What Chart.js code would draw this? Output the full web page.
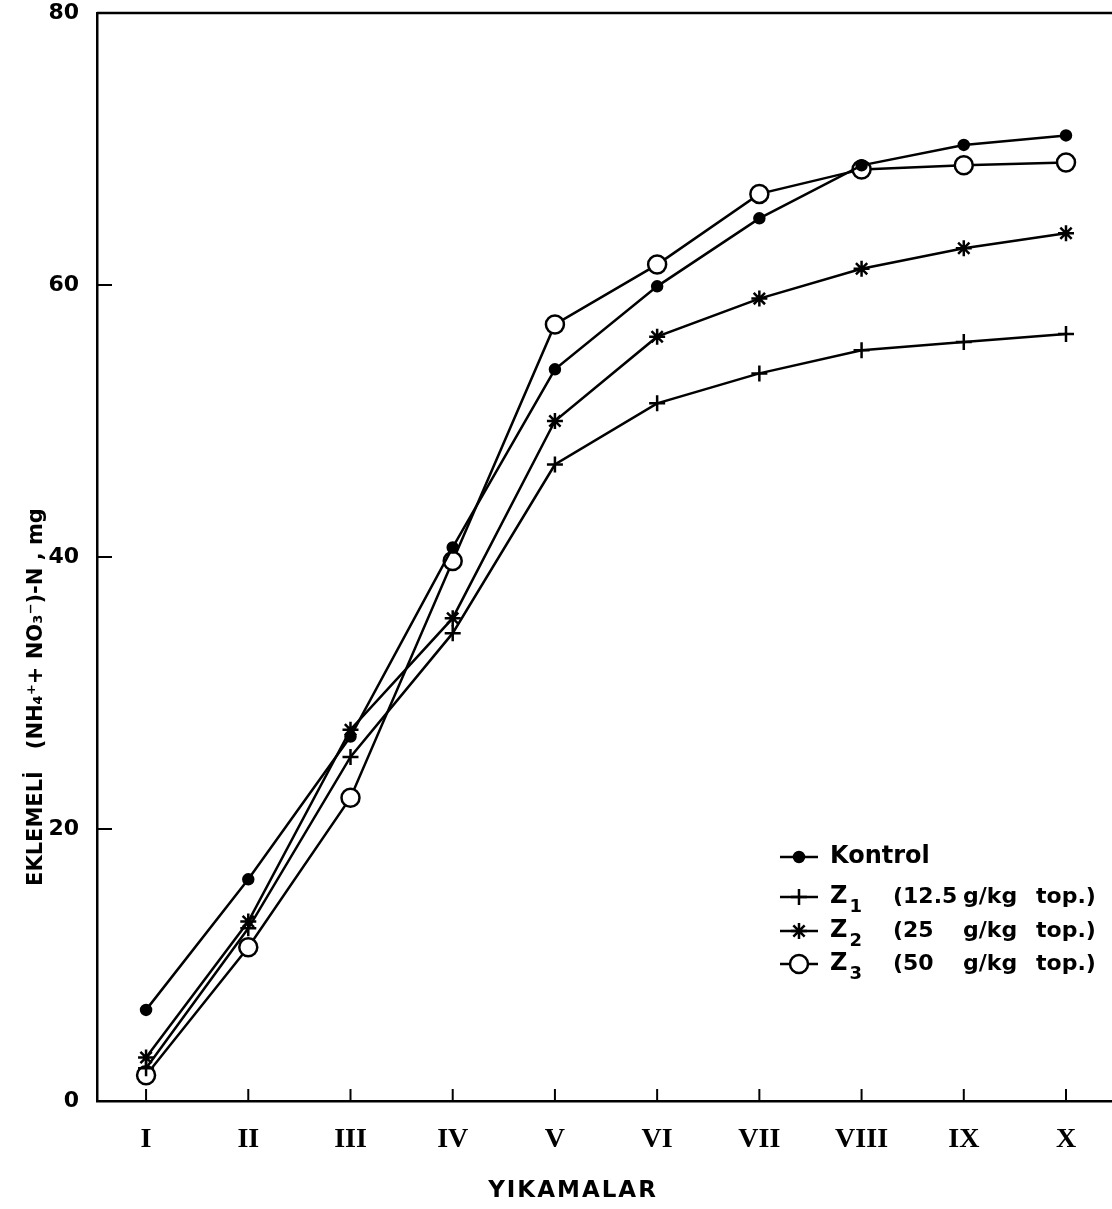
<!DOCTYPE html>
<html>
<head>
<meta charset="utf-8">
<script src="https://cdn.jsdelivr.net/npm/chart.js@4.4.1/dist/chart.umd.min.js"></script>
<style>
    html, body { margin: 0; padding: 0; background: #fff; }
    #wrap { width: 1112px; height: 1209px; }
</style>
</head>
<body>
<div id="wrap"><canvas id="washChart" width="1112" height="1209"></canvas></div>
<script>
// wash number (x axis) and y ticks
const washes = ['I', 'II', 'III', 'IV', 'V', 'VI', 'VII', 'VIII', 'IX', 'X'];
const yTicks = [0, 20, 40, 60, 80];

// cumulative (NH4+ + NO3-)-N, mg
const kontrol = [6.7, 16.3, 26.8, 40.7, 53.8, 59.9, 64.9, 68.8, 70.3, 71.0];
const z1 = [2.4, 12.7, 25.3, 34.4, 46.8, 51.3, 53.5, 55.2, 55.8, 56.4];
const z2 = [3.2, 13.2, 27.3, 35.5, 50.0, 56.2, 59.0, 61.2, 62.7, 63.8];
const z3 = [1.9, 11.3, 22.3, 39.7, 57.1, 61.5, 66.7, 68.5, 68.8, 69.0];

// legend pieces
const seriesNames = ['Kontrol', 'Z', 'Z', 'Z'];
const seriesSubs = ['', '1', '2', '3'];
const seriesDoses = ['', '12.5', '25', '50'];

const FONT = '"DejaVu Sans", sans-serif';

function toPoints(arr) {
    return arr.map((v, i) => ({ x: i + 1, y: v }));
}

const pointStyles = ['circle', 'cross', 'star', 'circle'];
const radii = [5, 8, 8, 9];
const fills = ['#000', '#000', '#000', '#fff'];

const datasets = [kontrol, z1, z2, z3].map((arr, i) => ({
    label: seriesNames[i] + seriesSubs[i] + (seriesDoses[i] ? ' (' + seriesDoses[i] + ' g/kg top.)' : ''),
    data: toPoints(arr),
    borderColor: '#000',
    borderWidth: 2.5,
    pointStyle: pointStyles[i],
    pointRadius: radii[i],
    pointBackgroundColor: fills[i],
    pointBorderColor: '#000',
    pointBorderWidth: 2.5,
    tension: 0,
    fill: false,
    clip: false,
    order: i == 3 ? 1 : 0
}));

const extras = {
    id: 'extras',
    afterDraw(chart) {
        const ctx = chart.ctx;
        const area = chart.chartArea;
        const xs = chart.scales.x;
        const ys = chart.scales.y;
        ctx.save();
        ctx.strokeStyle = '#000';
        ctx.lineWidth = 2.5;
        // top frame line, and both horizontal lines run to the page edge
        ctx.beginPath();
        ctx.moveTo(area.left, area.top);
        ctx.lineTo(chart.width, area.top);
        ctx.moveTo(area.right, area.bottom);
        ctx.lineTo(chart.width, area.bottom);
        ctx.stroke();
        // inward ticks
        ctx.lineWidth = 2;
        washes.forEach((w, i) => {
            const px = xs.getPixelForValue(i + 1);
            ctx.beginPath();
            ctx.moveTo(px, area.bottom);
            ctx.lineTo(px, area.bottom - 12);
            ctx.stroke();
        });
        yTicks.slice(1, -1).forEach(v => {
            const py = ys.getPixelForValue(v);
            ctx.beginPath();
            ctx.moveTo(area.left, py);
            ctx.lineTo(area.left + 15, py);
            ctx.stroke();
        });

        // axis titles
        ctx.fillStyle = '#000';
        ctx.font = 'bold 21px ' + FONT;
        ctx.textAlign = 'center';
        ctx.textBaseline = 'middle';
        ctx.save();
        ctx.translate(37, 697);
        ctx.rotate(-Math.PI / 2);
        ctx.fillText('EKLEMELİ   (NH\u2084\u207A+ NO\u2083\u207B)-N , mg', 0, 0);
        ctx.restore();
        ctx.font = 'bold 23px ' + FONT;
        ctx.letterSpacing = '2px';
        ctx.fillText('YIKAMALAR', 573, 1191);
        ctx.letterSpacing = '0px';

        // legend
        const rows = [857, 897, 931, 964];
        chart.data.datasets.forEach((ds, i) => {
            const y = rows[i];
            ctx.strokeStyle = '#000';
            ctx.lineWidth = 2.5;
            ctx.beginPath();
            ctx.moveTo(780, y);
            ctx.lineTo(818, y);
            ctx.stroke();
            ctx.fillStyle = ds.pointBackgroundColor;
            Chart.helpers.drawPoint(ctx, {
                pointStyle: ds.pointStyle,
                radius: ds.pointRadius,
                borderWidth: ds.pointBorderWidth,
                rotation: 0
            }, 799, y);
            ctx.fillStyle = '#000';
            ctx.textAlign = 'left';
            ctx.textBaseline = 'middle';
            ctx.font = 'bold 24px ' + FONT;
            ctx.fillText(seriesNames[i], 830, y);
            if (seriesSubs[i]) {
                const w = ctx.measureText(seriesNames[i]).width;
                ctx.font = 'bold 18px ' + FONT;
                ctx.fillText(seriesSubs[i], 830 + w + 2, y + 10);
                ctx.font = 'bold 22px ' + FONT;
                ctx.fillText('(' + seriesDoses[i], 893, y);
                ctx.fillText('g/kg', 963, y);
                ctx.fillText('top.)', 1036, y);
            }
        });
        ctx.restore();
    }
};

const ctx = document.getElementById('washChart').getContext('2d');
new Chart(ctx, {
    type: 'line',
    data: { datasets: datasets },
    options: {
        responsive: false,
        animation: false,
        layout: { autoPadding: false, padding: { top: 13, right: 0, left: 0, bottom: 0 } },
        plugins: {
            legend: { display: false },
            tooltip: { enabled: false }
        },
        scales: {
            x: {
                type: 'linear',
                min: 0.52,
                max: 10.45,
                afterBuildTicks: s => { s.ticks = washes.map((w, i) => ({ value: i + 1 })); },
                afterFit: s => { s.height = 108; s.paddingLeft = 0; s.paddingRight = 0; },
                grid: { display: false },
                border: { display: true, color: '#000', width: 2.5 },
                ticks: {
                    padding: 14,
                    color: '#000',
                    font: { family: '"Liberation Serif", serif', size: 28, weight: 'bold' },
                    callback: v => washes[v - 1] || ''
                }
            },
            y: {
                min: 0,
                max: 80,
                afterBuildTicks: s => { s.ticks = yTicks.map(v => ({ value: v })); },
                afterFit: s => { s.width = 97; s.paddingTop = 0; s.paddingBottom = 0; },
                grid: { display: false },
                border: { display: true, color: '#000', width: 2.5 },
                ticks: {
                    padding: 10,
                    color: '#000',
                    font: { family: FONT, size: 22, weight: 'bold' }
                }
            }
        }
    },
    plugins: [extras]
});
</script>
</body>
</html>
